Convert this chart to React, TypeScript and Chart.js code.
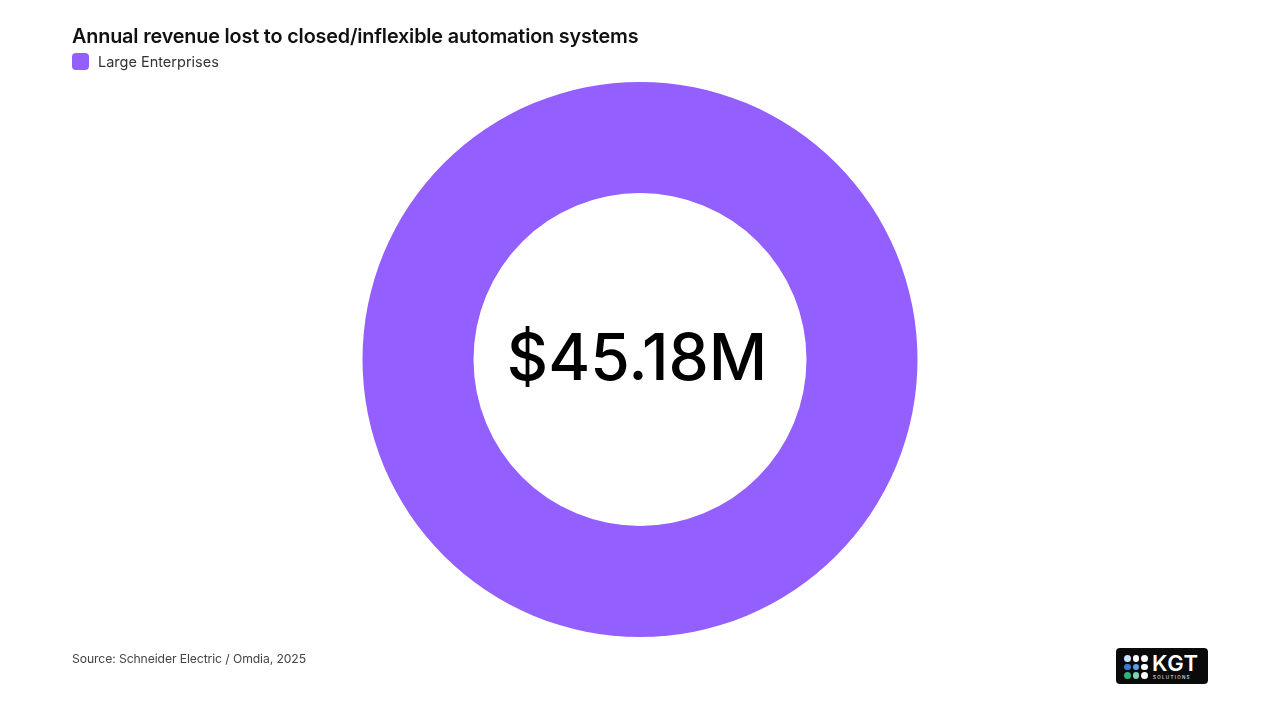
import React, { useEffect, useRef } from "react";
import { Chart, registerables } from "chart.js";

Chart.register(...registerables);

const TITLE = "Annual revenue lost to closed/inflexible automation systems";
const SOURCE = "Source: Schneider Electric / Omdia, 2025";
const categories = ["Large Enterprises"];
const revenueLostM = [45.18];
const centerLabel = "$45.18M";
const sliceColors = ["#9360FF"];

const centerTextPlugin = {
  id: "centerText",
  afterDatasetsDraw(chart: any) {
    const meta = chart.getDatasetMeta(0);
    if (!meta.data.length) return;
    const arc = meta.data[0];
    const ctx = chart.ctx;
    ctx.save();
    ctx.fillStyle = "#000000";
    ctx.font = "500 64px Inter, 'Noto Sans', sans-serif";
    ctx.textAlign = "center";
    ctx.textBaseline = "middle";
    ctx.fillText(centerLabel, arc.x - 3, arc.y + 1);
    ctx.restore();
  },
};

export default function App() {
  const ref = useRef<HTMLCanvasElement | null>(null);
  useEffect(() => {
    if (!ref.current) return;
    const chart = new Chart(ref.current, {
      type: "doughnut",
      data: {
        labels: categories,
        datasets: [
          {
            data: revenueLostM,
            backgroundColor: sliceColors,
            borderWidth: 0,
          },
        ],
      },
      options: {
        animation: false,
        responsive: false,
        maintainAspectRatio: false,
        cutout: "60%",
        layout: { padding: { top: 82, bottom: 83, left: 0, right: 0 } },
        plugins: {
          legend: { display: false },
          title: { display: false },
          tooltip: { enabled: false },
        },
      },
      plugins: [centerTextPlugin],
    });
    return () => chart.destroy();
  }, []);

  return (
    <div
      style={{
        position: "fixed",
        left: 0,
        top: 0,
        width: 1280,
        height: 720,
        background: "#ffffff",
        fontFamily: "Inter, 'Noto Sans', sans-serif",
        overflow: "hidden",
      }}
    >
      <canvas
        ref={ref}
        width={1280}
        height={720}
        style={{ position: "absolute", left: 0, top: 0, width: 1280, height: 720 }}
      />
      <div
        style={{
          position: "absolute",
          left: 72,
          top: 24,
          fontSize: 19.8,
          fontWeight: 600,
          color: "#111111",
          letterSpacing: -0.15,
          whiteSpace: "nowrap",
        }}
      >
        {TITLE}
      </div>
      <div
        style={{
          position: "absolute",
          left: 72,
          top: 53,
          display: "flex",
          alignItems: "center",
          gap: 9,
        }}
      >
        <div
          style={{
            width: 17,
            height: 17,
            borderRadius: 4,
            background: sliceColors[0],
          }}
        />
        <span style={{ fontSize: 14.5, color: "#333333" }}>{categories[0]}</span>
      </div>
      <div
        style={{
          position: "absolute",
          left: 72,
          top: 651,
          fontSize: 12.2,
          color: "#444444",
          whiteSpace: "nowrap",
          letterSpacing: -0.1,
        }}
      >
        {SOURCE}
      </div>
      <div
        style={{
          position: "absolute",
          left: 1116,
          top: 648,
          width: 92,
          height: 36,
          borderRadius: 4,
          background: "#0a0a0a",
        }}
      >
        <div
          style={{
            position: "absolute",
            left: 8,
            top: 7,
            display: "grid",
            gridTemplateColumns: "repeat(3, 6.5px)",
            gridGap: 2,
          }}
        >
          {[
            "#cfe3ff", "#ffffff", "#ffffff",
            "#3a7bd5", "#5aa0e6", "#ffffff",
            "#2fb37a", "#7fd3b0", "#ffffff",
          ].map((c, i) => (
            <div key={i} style={{ width: 6.5, height: 6.5, borderRadius: 3.5, background: c }} />
          ))}
        </div>
        <div
          style={{
            position: "absolute",
            left: 36,
            top: 4,
            color: "#ffffff",
            fontSize: 22,
            fontWeight: 600,
            lineHeight: "22px",
            letterSpacing: 0.5,
          }}
        >
          KGT
        </div>
        <div
          style={{
            position: "absolute",
            left: 37,
            top: 27,
            color: "#ffffff",
            fontSize: 4.5,
            letterSpacing: 1.3,
            lineHeight: "5px",
          }}
        >
          SOLUTIONS
        </div>
      </div>
    </div>
  );
}
